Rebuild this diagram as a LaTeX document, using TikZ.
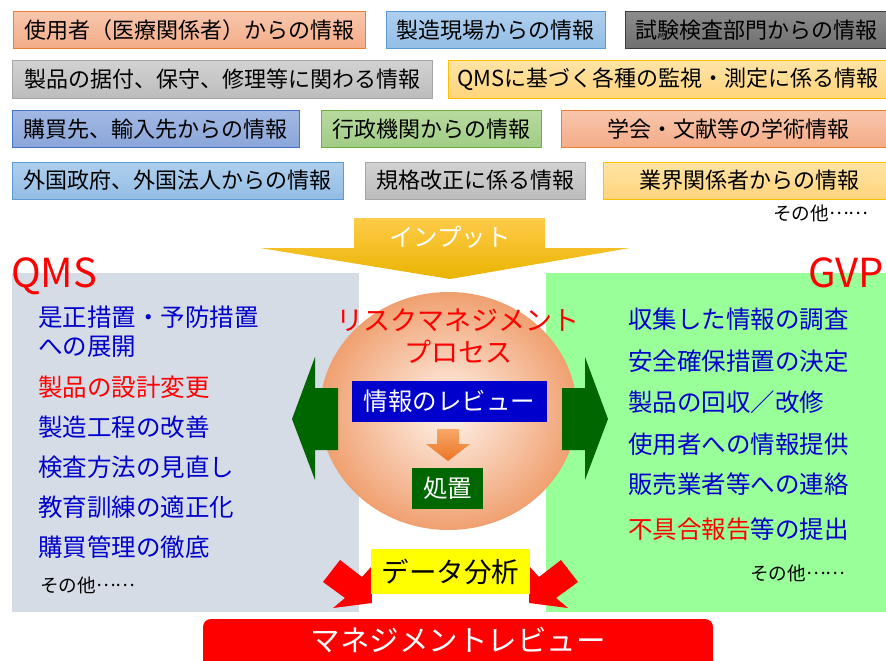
\documentclass[tikz,border=0pt]{standalone}
\usepackage{fontspec}
\setmainfont{Noto Sans CJK JP}
\usetikzlibrary{positioning}

\definecolor{orgline}{HTML}{ED7D31}
\definecolor{orgtop}{HTML}{F8C6AC}
\definecolor{orgbot}{HTML}{F4AC88}
\definecolor{bluline}{HTML}{5B9BD5}
\definecolor{blutop}{HTML}{AFCFEE}
\definecolor{blubot}{HTML}{93BDE4}
\definecolor{dgrline}{HTML}{3C3C3C}
\definecolor{dgrtop}{HTML}{8C8C8C}
\definecolor{dgrbot}{HTML}{6F6F6F}
\definecolor{lgrline}{HTML}{A5A5A5}
\definecolor{lgrtop}{HTML}{D2D2D2}
\definecolor{lgrbot}{HTML}{BCBCBC}
\definecolor{yelline}{HTML}{FFC000}
\definecolor{yeltop}{HTML}{FFE4A6}
\definecolor{yelbot}{HTML}{FFD47C}
\definecolor{indline}{HTML}{4472C4}
\definecolor{indtop}{HTML}{A2B9E3}
\definecolor{indbot}{HTML}{8AA5D9}
\definecolor{grnline}{HTML}{70AD47}
\definecolor{grntop}{HTML}{B8DAA0}
\definecolor{grnbot}{HTML}{A0CC84}
\definecolor{qmsgray}{HTML}{D6DCE5}
\definecolor{gvpgreen}{HTML}{99FF99}
\definecolor{listblue}{HTML}{0000CC}
\definecolor{qred}{HTML}{FF0000}
\definecolor{revblue}{HTML}{0000CC}
\definecolor{actgreen}{HTML}{006600}
\definecolor{datayel}{HTML}{FFFF00}
\definecolor{inyeltop}{HTML}{FFCB4A}
\definecolor{inyelbot}{HTML}{E9B400}
\definecolor{orbin}{HTML}{FFF4EC}
\definecolor{orbout}{HTML}{F0A070}
\definecolor{downtop}{HTML}{F6A868}
\definecolor{downbot}{HTML}{EC7424}

\newcommand{\etcdots}{\raisebox{0.3em}{……}}

\tikzset{
  info/.style={draw, line width=1pt, minimum height=37pt, inner sep=0pt, font=\fontsize{22}{24}\selectfont},
  orgbox/.style={info, draw=orgline, top color=orgtop, bottom color=orgbot},
  blubox/.style={info, draw=bluline, top color=blutop, bottom color=blubot},
  dgrbox/.style={info, draw=dgrline, top color=dgrtop, bottom color=dgrbot},
  lgrbox/.style={info, draw=lgrline, top color=lgrtop, bottom color=lgrbot},
  yelbox/.style={info, draw=yelline, top color=yeltop, bottom color=yelbot},
  indbox/.style={info, draw=indline, top color=indtop, bottom color=indbot},
  grnbox/.style={info, draw=grnline, top color=grntop, bottom color=grnbot},
  item/.style={anchor=west, inner sep=0pt, text=listblue, font=\fontsize{24.5}{26}\selectfont},
  etc/.style={anchor=west, inner sep=0pt, font=\fontsize{18.6}{20}\selectfont},
  head/.style={inner sep=0pt, text=qred, font=\fontsize{40}{42}\selectfont},
  orbtext/.style={inner sep=0pt, text=qred, font=\fontsize{27}{29}\selectfont},
  label box/.style={inner sep=0pt, text=white, font=\fontsize{24.5}{26}\selectfont}
}

\begin{document}
\begin{tikzpicture}[x=1pt,y=-1pt]
    \useasboundingbox (0,0) rectangle (886,661);

    \node [orgbox, minimum width=352pt](user)at(189,30){使用者（医療関係者）からの情報};
    \node [blubox, minimum width=219pt](plant)at(495.5,30){製造現場からの情報};
    \node [dgrbox, minimum width=262pt](test)at(756,30){試験検査部門からの情報};
    \node [lgrbox, minimum width=420pt](service)at(222,79.5){製品の据付、保守、修理等に関わる情報};
    \node [yelbox, minimum width=440pt](monitor)at(668,79.5){QMSに基づく各種の監視・測定に係る情報};
    \node [indbox, minimum width=287pt](supplier)at(155.5,129){購買先、輸入先からの情報};
    \node [grnbox, minimum width=220pt](admin)at(431,129){行政機関からの情報};
    \node [orgbox, minimum width=334pt](paper)at(728,129){学会・文献等の学術情報};
    \node [blubox, minimum width=331pt](foreign)at(177.5,180.5){外国政府、外国法人からの情報};
    \node [lgrbox, minimum width=220pt](standard)at(475,180.5){規格改正に係る情報};
    \node [yelbox, minimum width=292pt](industry)at(749,180.5){業界関係者からの情報};
    \node [etc](etctop)at(773,213){その他\etcdots};

    \shade [top color=inyeltop, bottom color=inyelbot](354,218)--(545,218)--(545,248)--(630,248)--(450,279)--(260,248)--(354,248)--cycle;
    \node [label box](input)at(450,237){インプット};

    \fill [qmsgray](12,273) rectangle (359,612);
    \fill [gvpgreen](546,273) rectangle (890,612);
    \node [head, anchor=base west](qms)at(11,287){QMS};
    \node [head, anchor=base east](gvp)at(884,287){GVP};

    \shade [inner color=orbin, outer color=orbout](448.5,411) ellipse [x radius=128.5pt, y radius=119pt];
    \node [orbtext](risk)at(458,320){リスクマネジメント};
    \node [orbtext](process)at(458,352){プロセス};
    \node [label box, fill=revblue, minimum width=195pt, minimum height=41pt](review)at(449.5,401.5){情報のレビュー};
    \node [label box, fill=actgreen, minimum width=71pt, minimum height=41pt](act)at(447.5,488.5){処置};
    \shade [top color=downtop, bottom color=downbot](437,429)--(459,429)--(459,444)--(470,444)--(448,461)--(426,444)--(437,444)--cycle;

    \fill [actgreen](338,388)--(315,388)--(315,357)--(292,419)--(315,480)--(315,450)--(338,450)--cycle;
    \fill [actgreen](562,388)--(585,388)--(585,357)--(608,419)--(585,480)--(585,450)--(562,450)--cycle;

    \node [item](qa)at(38,317){是正措置・予防措置};
    \node [item](qb)at(38,347){への展開};
    \node [item, text=qred](qc)at(38,387){製品の設計変更};
    \node [item](qd)at(38,427){製造工程の改善};
    \node [item](qe)at(38,467){検査方法の見直し};
    \node [item](qf)at(38,507){教育訓練の適正化};
    \node [item](qg)at(38,547){購買管理の徹底};
    \node [etc](qetc)at(40,585){その他\etcdots};

    \node [item](ga)at(628,319){収集した情報の調査};
    \node [item](gb)at(628,361){安全確保措置の決定};
    \node [item](gc)at(628,402){製品の回収／改修};
    \node [item](gd)at(628,444){使用者への情報提供};
    \node [item](ge)at(628,484){販売業者等への連絡};
    \node [item](gf)at(628,529){\textcolor{qred}{不具合報告}等の提出};
    \node [etc](getc)at(750,573){その他\etcdots};

    \fill [qred](340,560)--(323,582)--(345,598)--(333,608)--(372,603)--(371,567)--(362,577)--cycle;
    \fill [qred](561,560)--(578,582)--(556,598)--(568,608)--(529,603)--(530,567)--(539,577)--cycle;
    \node [inner sep=0pt, fill=datayel, minimum width=159pt, minimum height=45pt, font=\fontsize{27.5}{29}\selectfont](data)at(450.5,571.5){データ分析};

    \fill [qred, rounded corners=8pt](203,619) rectangle (713,690);
    \node [label box, font=\fontsize{29.5}{31}\selectfont](mgmt)at(458,640){マネジメントレビュー};
\end{tikzpicture}
\end{document}
